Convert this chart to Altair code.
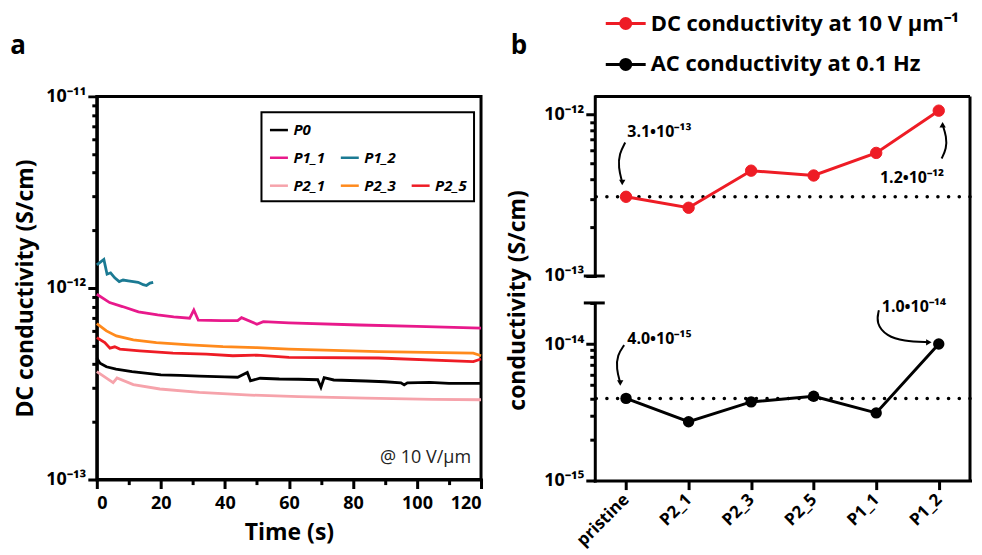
import altair as alt
import pandas as pd

FONT = "Open Sans"

# ---------------- Panel a : DC conductivity vs time ----------------
series_names = ["P0", "P1_1", "P1_2", "P2_1", "P2_3", "P2_5"]
series_colors = ["#000000", "#e8198b", "#1b7a93", "#f6a3ab", "#ff8a1c", "#ee1c25"]

p0_t = [0, 1, 3, 6, 11, 20, 26, 32, 40, 44, 47, 48, 51, 57, 63, 69, 70, 71, 74, 84, 90, 95, 96, 97, 104, 110, 120]
p0_v = [4.31e-13, 4.05e-13, 3.88e-13, 3.77e-13, 3.66e-13, 3.52e-13, 3.50e-13, 3.47e-13, 3.44e-13, 3.42e-13,
        3.62e-13, 3.28e-13, 3.38e-13, 3.35e-13, 3.34e-13, 3.32e-13, 3.03e-13, 3.40e-13, 3.31e-13, 3.27e-13,
        3.24e-13, 3.20e-13, 3.12e-13, 3.20e-13, 3.22e-13, 3.18e-13, 3.18e-13]

p11_t = [0, 4, 8, 13, 19, 24, 29, 30.3, 31.7, 39, 44, 45.2, 50, 52, 60, 82, 100, 120]
p11_v = [9.27e-13, 8.39e-13, 8.0e-13, 7.5e-13, 7.23e-13, 7.06e-13, 6.95e-13, 7.67e-13, 6.79e-13, 6.75e-13,
         6.75e-13, 7.0e-13, 6.47e-13, 6.67e-13, 6.58e-13, 6.41e-13, 6.30e-13, 6.17e-13]

p12_t = [0, 2.2, 3.2, 4.3, 5.6, 7.0, 8.2, 9.8, 11.4, 12.9, 14.5, 15.5, 16.6, 17.6]
p12_v = [1.32e-12, 1.41e-12, 1.18e-12, 1.20e-12, 1.13e-12, 1.08e-12, 1.10e-12, 1.09e-12, 1.08e-12, 1.07e-12,
         1.04e-12, 1.03e-12, 1.06e-12, 1.07e-12]

p21_t = [0, 5.1, 6.3, 11.4, 19.7, 32, 48, 63, 84, 105, 120]
p21_v = [3.66e-13, 3.21e-13, 3.39e-13, 3.13e-13, 2.97e-13, 2.85e-13, 2.76e-13, 2.71e-13, 2.66e-13, 2.62e-13, 2.61e-13]

p23_t = [0, 3, 6.1, 11.4, 18.6, 29, 39.4, 50, 60, 88, 117.6, 120]
p23_v = [6.52e-13, 5.97e-13, 5.62e-13, 5.36e-13, 5.19e-13, 5.05e-13, 4.94e-13, 4.88e-13, 4.80e-13, 4.65e-13,
         4.57e-13, 4.43e-13]

p25_t = [0, 2.5, 4.1, 5.6, 7.2, 13.4, 23.8, 34.2, 42.5, 50, 60, 88, 117.6, 120]
p25_v = [5.51e-13, 5.19e-13, 4.85e-13, 4.93e-13, 4.80e-13, 4.70e-13, 4.57e-13, 4.52e-13, 4.43e-13, 4.46e-13,
         4.34e-13, 4.31e-13, 4.13e-13, 4.26e-13]

series_t = [p0_t, p11_t, p12_t, p21_t, p23_t, p25_t]
series_v = [p0_v, p11_v, p12_v, p21_v, p23_v, p25_v]

# ---------------- Panel b : DC vs AC conductivity per sample ----------------
samples = ["pristine", "P2_1", "P2_3", "P2_5", "P1_1", "P1_2"]
dc_vals = [3.1e-13, 2.65e-13, 4.5e-13, 4.2e-13, 5.8e-13, 1.06e-12]
ac_vals = [4.0e-15, 2.7e-15, 3.77e-15, 4.15e-15, 3.13e-15, 1.0e-14]
dc_ref = 3.1e-13
ac_ref = 4.0e-15
legend_b = ["DC conductivity at 10 V µm⁻¹", "AC conductivity at 0.1 Hz"]
legend_b_colors = ["#ee1c25", "#000000"]

# annotations (sample index, value, text)
up_notes = [(0.02, 7.85e-13, "3.1•10⁻¹³"), (4.06, 4.03e-13, "1.2•10⁻¹²")]
low_notes = [(0.02, 1.087e-14, "4.0•10⁻¹⁵"), (4.09, 1.86e-14, "1.0•10⁻¹⁴")]
# curved arrows (index, value) paths; last point carries the head
up_arrows = {
    "a1": ([-0.014, -0.108, -0.124, -0.061], [6.72e-13, 5.74e-13, 4.71e-13, 3.80e-13], "triangle-down"),
    "a2": ([5.046, 5.124, 5.124, 5.062], [5.35e-13, 6.17e-13, 7.31e-13, 8.67e-13], "triangle-up"),
}
low_arrows = {
    "a3": ([-0.030, -0.140, -0.155, -0.093], [9.83e-15, 8.31e-15, 6.58e-15, 5.19e-15], "triangle-down"),
    "a4": ([4.043, 3.996, 4.169, 4.435, 4.842], [1.77e-14, 1.42e-14, 1.14e-14, 1.05e-14, 1.03e-14], "triangle-right"),
}

# ---------------- helpers ----------------
SUPS = "⁰¹²³⁴⁵⁶⁷⁸⁹"
N = "round(-log(datum.value)/LN10)"
MAJOR = "abs(log(datum.value)/LN10 - round(log(datum.value)/LN10)) < 0.01"
SUP_EXPR = (f"{MAJOR} ? '10⁻' + (floor({N}/10) > 0 ? substring('{SUPS}', floor({N}/10), floor({N}/10)+1) : '')"
            f" + substring('{SUPS}', {N} % 10, {N} % 10 + 1) : ''")
DASH_LOG = {"condition": {"test": MAJOR, "value": [1, 0]}, "value": [5, 30]}
DASH_T = {"condition": {"test": "datum.value % 20 == 0", "value": [1, 0]}, "value": [5, 30]}


def decade_ticks(e_lo, e_hi, extra=()):
    vals = [m * 10.0 ** e for e in range(e_lo, e_hi) for m in range(1, 10)]
    return vals + [10.0 ** e_hi] + list(extra)


one = pd.DataFrame({"k": [0]})

# ---------------- Panel a chart ----------------
rows = []
for name, ts, vs in zip(series_names, series_t, series_v):
    for t, v in zip(ts, vs):
        rows.append({"series": name, "t": t, "v": v})
df_a = pd.DataFrame(rows)

# legend grid is filled column by column (3 rows x 3 columns)
leg_domain = ["P0", "P1_1", "P2_1", "_b1", "P1_2", "P2_3", "_b2", "_b3", "P2_5"]
cmap = dict(zip(series_names, series_colors))
leg_range = [cmap.get(d, "transparent") for d in leg_domain]

W_A, H_A = 385, 384

lines_a = alt.Chart(df_a).mark_line(strokeWidth=2.8).encode(
    x=alt.X("t:Q", scale=alt.Scale(domain=[0, 120], nice=False, zero=False),
            axis=alt.Axis(values=list(range(0, 121, 10)),
                          labelExpr="datum.value % 20 == 0 ? datum.label : ''",
                          ticks=True, tickSize=9, tickDash=DASH_T,
                          title="Time (s)", labelPadding=6, titlePadding=9)),
    y=alt.Y("v:Q", scale=alt.Scale(type="log", domain=[1e-13, 1e-11], nice=False),
            axis=alt.Axis(values=decade_ticks(-13, -11), labelExpr=SUP_EXPR, ticks=True, tickSize=9,
                          tickDash=DASH_LOG,
                          title="DC conductivity (S/cm)", titlePadding=8, labelPadding=2)),
    color=alt.Color("series:N", scale=alt.Scale(domain=leg_domain, range=leg_range),
                    legend=alt.Legend(orient="none", legendX=165, legendY=16, columns=3, title=None,
                                      symbolType="stroke", symbolSize=324, symbolStrokeWidth=2.5,
                                      labelFont=FONT, labelFontStyle="italic", labelFontWeight="bold",
                                      labelFontSize=15, labelColor="black",
                                      labelExpr="indexof(datum.label, '_b') == 0 ? '' : datum.label",
                                      strokeColor="black", padding=7, rowPadding=9, columnPadding=10,
                                      labelOffset=4)),
    order=alt.Order("t:Q"),
)

note_a = alt.Chart(pd.DataFrame({"txt": ["@ 10 V/µm"]})).mark_text(
    font=FONT, fontSize=18, align="right", baseline="middle", color="#222222").encode(
    text="txt:N", x=alt.value(W_A - 10), y=alt.value(362))

tag_a = alt.Chart(pd.DataFrame({"txt": ["a"]})).mark_text(
    font=FONT, fontSize=26, fontWeight="bold", align="center", baseline="middle").encode(
    text="txt:N", x=alt.value(-79), y=alt.value(-50))

panel_a = alt.layer(lines_a, note_a, tag_a).properties(
    width=W_A, height=H_A, view=alt.ViewBackground(stroke="black", strokeWidth=3))

# ---------------- Panel b charts ----------------
W_B, H_UP, H_LOW, GAP = 376, 180, 178, 27

x_b = alt.X("idx:Q", scale=alt.Scale(domain=[-0.5, 5.5], nice=False, zero=False), axis=None)
x_b_low = alt.X("idx:Q", scale=alt.Scale(domain=[-0.5, 5.5], nice=False, zero=False),
                axis=alt.Axis(values=list(range(len(samples))),
                              labelExpr="[" + ",".join(f"'{s}'" for s in samples) + "][datum.value]",
                              labelAngle=-45, labelAlign="right", labelBaseline="middle",
                              labelFontSize=17, ticks=True, tickSize=9, title=None, labelPadding=7))

y_up = alt.Y("val:Q", scale=alt.Scale(type="log", domain=[1e-13, 1.3e-12], nice=False),
             axis=alt.Axis(values=decade_ticks(-13, -12), labelExpr=SUP_EXPR, ticks=True, tickSize=9,
                           tickDash=DASH_LOG, title=None, labelPadding=2))
y_low = alt.Y("val:Q", scale=alt.Scale(type="log", domain=[1e-15, 2e-14], nice=False),
              axis=alt.Axis(values=decade_ticks(-15, -14, extra=[2e-14]), labelExpr=SUP_EXPR, ticks=True,
                            tickSize=9, tickDash=DASH_LOG, title="conductivity (S/cm)", titleY=-3,
                            titlePadding=14, labelPadding=2))

df_dc = pd.DataFrame({"idx": range(len(samples)), "val": dc_vals, "series": legend_b[0]})
df_ac = pd.DataFrame({"idx": range(len(samples)), "val": ac_vals, "series": legend_b[1]})


def arrows_df(arrows):
    r = []
    for key, (xs, ys, sh) in arrows.items():
        for i, (xv, yv) in enumerate(zip(xs, ys)):
            r.append({"arrow": key, "k": i, "idx": xv, "val": yv, "sh": sh, "head": i == len(xs) - 1})
    return pd.DataFrame(r)


def notes_df(notes):
    return pd.DataFrame({"idx": [n[0] for n in notes], "val": [n[1] for n in notes], "txt": [n[2] for n in notes]})


def annot_layers(notes, arrows, x_enc, y_enc):
    adf = arrows_df(arrows)
    txt = alt.Chart(notes_df(notes)).mark_text(
        font=FONT, fontSize=16, fontWeight="bold", align="left", baseline="middle", color="black").encode(
        x=x_enc, y=y_enc, text="txt:N")
    curve = alt.Chart(adf).mark_line(interpolate="basis", strokeWidth=2, color="black").encode(
        x=x_enc, y=y_enc, detail="arrow:N", order="k:Q")
    head = alt.Chart(adf[adf["head"]]).mark_point(filled=True, size=40, color="black", opacity=1).encode(
        x=x_enc, y=y_enc, shape=alt.Shape("sh:N", scale=None))
    return [txt, curve, head]


dot_style = dict(strokeDash=[0.1, 10.6], strokeCap="round", strokeWidth=3.5, color="black")

# legend symbol: line with a dot, wider than its nominal size
leg_b = alt.Legend(orient="none", legendX=20, legendY=-84, title=None,
                   symbolType="M-4,0H4M-1,0A1,1,0,1,1,1,0A1,1,0,1,1,-1,0Z",
                   symbolSize=100, symbolStrokeWidth=3, labelFont=FONT, labelFontSize=22,
                   labelFontWeight="bold", labelColor="black", labelOffset=14, rowPadding=19, padding=0,
                   labelLimit=600)
sc_b = alt.Scale(domain=legend_b, range=legend_b_colors)

up_ref = alt.Chart(pd.DataFrame({"val": [dc_ref]})).mark_rule(**dot_style).encode(y=y_up)
up_line = alt.Chart(df_dc).mark_line(strokeWidth=3, color="#ee1c25").encode(x=x_b, y=y_up)
up_pts = alt.Chart(df_dc).mark_point(filled=True, size=130, opacity=1, strokeWidth=1).encode(
    x=x_b, y=y_up,
    fill=alt.Fill("series:N", scale=sc_b, legend=leg_b),
    stroke=alt.Stroke("series:N", scale=sc_b, legend=leg_b))
up_top = alt.Chart(one).mark_rule(strokeWidth=3, color="black").encode(
    x=alt.value(0), x2=alt.value(W_B), y=alt.value(0))
up_right = alt.Chart(one).mark_rule(strokeWidth=3, color="black").encode(
    x=alt.value(W_B), y=alt.value(0), y2=alt.value(H_UP + GAP + H_LOW))
up_cap = alt.Chart(one).mark_rule(strokeWidth=3, color="black").encode(
    x=alt.value(-11), x2=alt.value(10), y=alt.value(H_UP))
tag_b = alt.Chart(pd.DataFrame({"txt": ["b"]})).mark_text(
    font=FONT, fontSize=26, fontWeight="bold", align="center", baseline="middle").encode(
    text="txt:N", x=alt.value(-76), y=alt.value(-50))

upper = alt.layer(up_ref, up_line, up_pts, *annot_layers(up_notes, up_arrows, x_b, y_up),
                  up_top, up_right, up_cap, tag_b).properties(
    width=W_B, height=H_UP, view=alt.ViewBackground(stroke=None))

low_ref = alt.Chart(pd.DataFrame({"val": [ac_ref]})).mark_rule(**dot_style).encode(y=y_low)
low_line = alt.Chart(df_ac).mark_line(strokeWidth=3, color="black").encode(x=x_b_low, y=y_low)
low_pts = alt.Chart(df_ac).mark_point(filled=True, size=130, opacity=1, color="black").encode(x=x_b_low, y=y_low)
low_cap = alt.Chart(one).mark_rule(strokeWidth=3, color="black").encode(
    x=alt.value(-11), x2=alt.value(10), y=alt.value(0))

lower = alt.layer(low_ref, low_line, low_pts, *annot_layers(low_notes, low_arrows, x_b_low, y_low),
                  low_cap).properties(width=W_B, height=H_LOW, view=alt.ViewBackground(stroke=None))

panel_b = alt.vconcat(upper, lower, spacing=GAP, bounds="flush").resolve_scale(
    x="independent", y="independent")

chart = alt.hconcat(panel_a, panel_b, spacing=114, bounds="flush").resolve_scale(
    x="independent", y="independent", color="independent", fill="independent", stroke="independent"
).properties(
    padding={"left": 0, "top": 4, "right": 2, "bottom": 0}
).configure_view(stroke=None).configure_axis(
    domainWidth=3, domainColor="black", domainCap="square", tickWidth=3, tickColor="black",
    labelFont=FONT, labelFontSize=18, labelFontWeight="bold", labelColor="black",
    titleFont=FONT, titleFontSize=23, titleFontWeight="bold", titleColor="black", grid=False
).configure_legend(strokeWidth=2)

chart.save("out.html", embed_options={"renderer": "svg", "actions": False})
